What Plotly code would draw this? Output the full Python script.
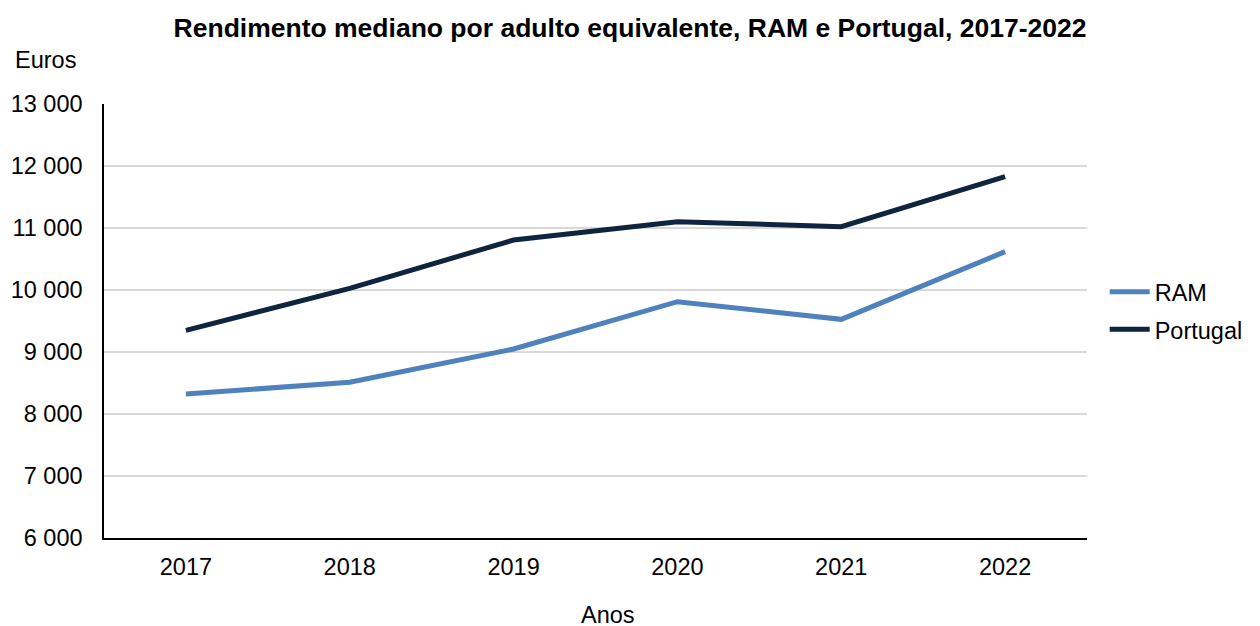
import plotly.graph_objects as go

years = ["2017", "2018", "2019", "2020", "2021", "2022"]
ram = [8323, 8511, 9048, 9811, 9527, 10618]
portugal = [9350, 10027, 10806, 11102, 11021, 11828]
y_ticks = [6000, 7000, 8000, 9000, 10000, 11000, 12000, 13000]
y_tick_labels = ["6 000", "7 000", "8 000", "9 000", "10 000", "11 000", "12 000", "13 000"]

font_family = "Liberation Sans, Arial, sans-serif"

fig = go.Figure()
fig.add_trace(go.Scatter(x=years, y=ram, mode="lines", name="RAM", legendgroup="a",
                         line=dict(color="#4F81BD", width=5)))
fig.add_trace(go.Scatter(x=years, y=portugal, mode="lines", name="Portugal", legendgroup="b",
                         line=dict(color="#0F243E", width=5)))

fig.update_layout(
    width=1260, height=626,
    margin=dict(l=96, r=181, t=96, b=96),
    paper_bgcolor="white", plot_bgcolor="white",
    font=dict(family=font_family, size=23.5, color="#000000"),
    title=dict(text="<b>Rendimento mediano por adulto equivalente, RAM e Portugal, 2017-2022</b>",
               x=0.4937, xanchor="center", y=0.968, yanchor="middle",
               font=dict(size=26.5, family=font_family)),
    showlegend=True,
    legend=dict(x=1.018, xanchor="left", y=0.523, yanchor="middle",
                font=dict(size=23.5), itemwidth=40, tracegroupgap=4),
    xaxis=dict(type="category", range=[-0.5, 5.5], showline=True, linecolor="#000000",
               linewidth=1.5, showgrid=False, ticks="", ticklabelstandoff=7,
               automargin=False),
    yaxis=dict(range=[6000, 13000], tickvals=y_ticks, ticktext=y_tick_labels,
               showline=True, linecolor="#000000", linewidth=1.5,
               showgrid=True, gridcolor="#D9D9D9", gridwidth=1.5,
               ticks="", ticklabelstandoff=15, zeroline=False, automargin=False),
)

fig.add_annotation(text="Euros", xref="paper", yref="paper", x=-0.093, y=1.067,
                   xanchor="left", yanchor="bottom", showarrow=False,
                   font=dict(size=23.5, family=font_family))
fig.add_annotation(text="Anos", xref="paper", yref="paper", x=0.5127, y=-0.1774,
                   xanchor="center", yanchor="middle", showarrow=False,
                   font=dict(size=23.5, family=font_family))

fig.write_html("out.html")
